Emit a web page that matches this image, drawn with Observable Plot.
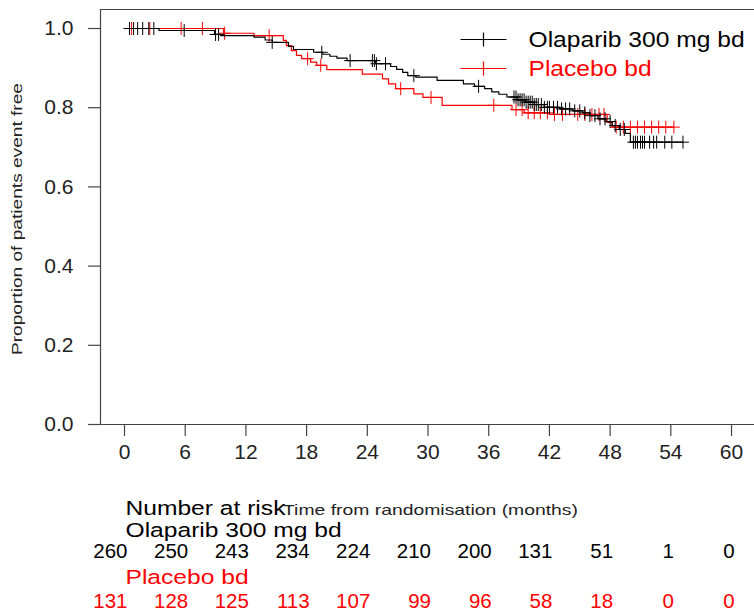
<!DOCTYPE html>
<html><head><meta charset="utf-8">
<script src="https://cdn.jsdelivr.net/npm/d3@7"></script>
<script src="https://cdn.jsdelivr.net/npm/@observablehq/plot@0.6"></script>
<style>body{margin:0;background:#fff;} svg{display:block;}</style>
</head><body><div id="chart"></div>
<script>
// ---- data ----
const seriesNames = ["Olaparib 300 mg bd", "Placebo bd"];
const seriesColors = ["#000000", "#ff0000"];

const olapTime = [0, 3.4, 8.9, 9.5, 12.8, 13.9, 14.6, 16.2, 16.7, 18.7, 19.6, 20.3, 21.0, 22.0, 24.8, 26.3, 26.9, 27.5, 28.0, 28.8, 30.9, 33.5, 34.6, 35.6, 36.3, 37.0, 37.8, 38.8, 39.6, 40.5, 41.5, 43.0, 44.3, 45.3, 46.0, 46.8, 47.6, 48.2, 48.9, 49.5, 50.0];
const olapSurv = [1.0, 0.995, 0.985, 0.982, 0.978, 0.971, 0.965, 0.955, 0.947, 0.940, 0.935, 0.930, 0.925, 0.919, 0.911, 0.904, 0.897, 0.889, 0.881, 0.877, 0.869, 0.860, 0.854, 0.848, 0.840, 0.834, 0.827, 0.820, 0.814, 0.808, 0.801, 0.797, 0.792, 0.787, 0.780, 0.772, 0.765, 0.755, 0.745, 0.735, 0.713];
const olapCensor = [0.5, 0.9, 1.3, 1.8, 2.4, 2.9, 5.9, 9.0, 9.3, 14.6, 19.5, 22.3, 24.5, 24.7, 24.9, 25.8, 28.6, 35.0, 38.5, 38.7, 38.9, 39.1, 39.3, 39.5, 39.7, 39.9, 40.1, 40.3, 40.5, 40.7, 40.9, 41.2, 41.5, 41.8, 42.0, 42.4, 42.8, 43.2, 43.6, 44.0, 44.5, 45.0, 45.5, 46.0, 46.5, 47.0, 47.5, 48.0, 48.5, 49.0, 49.4, 50.3, 50.5, 50.7, 51.0, 51.2, 51.4, 51.9, 52.3, 52.6, 53.4, 54.1, 55.2];

const placTime = [0, 9.8, 12.8, 15.7, 16.0, 16.5, 17.0, 17.5, 18.4, 19.0, 20.0, 23.5, 25.5, 26.1, 26.8, 28.6, 29.5, 31.4, 38.3, 39.5, 42.0, 47.7, 48.2];
const placSurv = [1.0, 0.988, 0.982, 0.970, 0.957, 0.944, 0.932, 0.924, 0.915, 0.907, 0.896, 0.885, 0.873, 0.860, 0.848, 0.835, 0.826, 0.806, 0.795, 0.787, 0.783, 0.763, 0.751];
const placCensor = [0.7, 2.5, 5.6, 7.7, 9.9, 14.3, 18.1, 19.4, 27.3, 30.3, 36.5, 38.7, 39.3, 39.9, 40.5, 41.1, 41.8, 42.5, 43.3, 44.8, 45.5, 46.2, 46.9, 47.4, 48.6, 49.3, 50.0, 50.7, 51.4, 52.1, 52.8, 53.5, 54.3];

const riskTimes = [0, 6, 12, 18, 24, 30, 36, 42, 48, 54, 60];
const olapRisk = [260, 250, 243, 234, 224, 210, 200, 131, 51, 1, 0];
const placRisk = [131, 128, 125, 113, 107, 99, 96, 58, 18, 0, 0];
const yTicks = [0, 0.2, 0.4, 0.6, 0.8, 1.0];

const yLabel = "Proportion of patients event free";
const xLabel = "Time from randomisation (months)";
const riskTitle = "Number at risk";

// ---- build ----
const xDomain = [-2.372, 62.27];
const yDomain = [0, 1.048];
const font = "'Liberation Sans', Arial, Helvetica, sans-serif";
const wordSize = 20.5;

function stepData(times, surv, censor) {
  const pts = times.map((t, i) => ({t, s: surv[i]}));
  pts.push({t: d3.max(censor), s: surv[surv.length - 1]});
  return pts;
}
function survAt(times, surv, t) {
  const i = d3.bisectRight(times, t) - 1;
  return surv[Math.max(0, i)];
}
const arms = [
  {times: olapTime, surv: olapSurv, censor: olapCensor, risk: olapRisk},
  {times: placTime, surv: placSurv, censor: placCensor, risk: placRisk}
];

const censorSym = {draw(ctx) { ctx.moveTo(-6, 0); ctx.lineTo(6, 0); ctx.moveTo(0, -6.5); ctx.lineTo(0, 6.5); }};
const legendSym = {draw(ctx) { ctx.moveTo(-23, 0); ctx.lineTo(23, 0); ctx.moveTo(0, -7); ctx.lineTo(0, 7); }};

const marks = [
  Plot.ruleY([0], {stroke: "#444", strokeWidth: 1.2}),
  Plot.ruleY([yDomain[1]], {stroke: "#444", strokeWidth: 1.2}),
  Plot.ruleX([xDomain[0]], {stroke: "#444", strokeWidth: 1.2}),
  Plot.axisY({ticks: yTicks, tickFormat: d3.format(".1f"), tickSize: 12, tickPadding: 15, fontSize: 21, label: null, stroke: "#444", fill: "#222", strokeWidth: 1.2}),
  Plot.axisX({ticks: riskTimes, tickFormat: d => String(d), tickSize: 12, tickPadding: 8, fontSize: 21, label: null, stroke: "#444", fill: "#222", strokeWidth: 1.2}),
  Plot.text([yLabel], {text: d => d, frameAnchor: "left", dx: -83, dy: 138, rotate: -90, textAnchor: "start", fontSize: 15, fill: "#222"})
];

[1, 0].forEach(k => {
  const a = arms[k];
  marks.push(Plot.line(stepData(a.times, a.surv, a.censor), {x: "t", y: "s", curve: "step-after", stroke: seriesColors[k], strokeWidth: 1.2}));
  marks.push(Plot.dot(a.censor, {x: d => d, y: d => survAt(a.times, a.surv, d), symbol: censorSym, stroke: seriesColors[k], fill: "none", strokeWidth: 1, r: 5}));
});

// legend
seriesNames.forEach((name, i) => {
  marks.push(Plot.dot([name], {frameAnchor: "top-left", dx: 383, dy: 30 + 29 * i, symbol: legendSym, stroke: seriesColors[i], fill: "none", strokeWidth: 1.2, r: 5}));
  marks.push(Plot.text([name], {text: d => d, frameAnchor: "top-left", dx: 428, dy: 30 + 29 * i, textAnchor: "start", lineAnchor: "middle", fill: seriesColors[i], fontSize: 22}));
});

// risk table
marks.push(Plot.text([riskTitle], {text: d => d, frameAnchor: "bottom-left", dx: 25, dy: 84, textAnchor: "start", lineAnchor: "middle", fill: "#000", fontSize: wordSize}));
marks.push(Plot.text([xLabel], {text: d => d, frameAnchor: "bottom-left", dx: 330, dy: 86, textAnchor: "middle", lineAnchor: "middle", fill: "#222", fontSize: 15}));
const rowDy = [[105.5, 127], [153, 177]];
seriesNames.forEach((name, i) => {
  marks.push(Plot.text([name], {text: d => d, frameAnchor: "bottom-left", dx: 25, dy: rowDy[i][0], textAnchor: "start", lineAnchor: "middle", fill: seriesColors[i], fontSize: wordSize}));
  const rows = riskTimes.map((t, j) => ({t, n: arms[i].risk[j]}));
  marks.push(Plot.text(rows, {x: "t", text: d => String(d.n), frameAnchor: "bottom", dy: rowDy[i][1], dx: 3, textAnchor: "end", lineAnchor: "middle", fill: seriesColors[i], fontSize: 20.5}));
});

const chart = Plot.plot({
  width: 754,
  height: 613,
  marginLeft: 100,
  marginRight: 0,
  marginTop: 9,
  marginBottom: 189,
  x: {domain: xDomain},
  y: {domain: yDomain},
  style: {fontFamily: font, background: "#fff", overflow: "visible"},
  marks
});
document.getElementById("chart").appendChild(chart);

// horizontal stretch of word labels to match the reference's wide lettering
const svg = d3.select(chart);
const wordTexts = new Set([...seriesNames, riskTitle]);
svg.selectAll("text").each(function() {
  const s = this.textContent;
  if (s === yLabel) {
    d3.select(this).attr("textLength", 272).attr("lengthAdjust", "spacingAndGlyphs");
  } else if (s === xLabel) {
    d3.select(this).attr("textLength", 295).attr("lengthAdjust", "spacingAndGlyphs");
  } else if (wordTexts.has(s)) {
    const fs = parseFloat(getComputedStyle(this).fontSize) || wordSize;
    const w = this.getComputedTextLength();
    d3.select(this).attr("textLength", w * 24.6 / fs).attr("lengthAdjust", "spacingAndGlyphs");
  }
});
</script>
</body></html>
